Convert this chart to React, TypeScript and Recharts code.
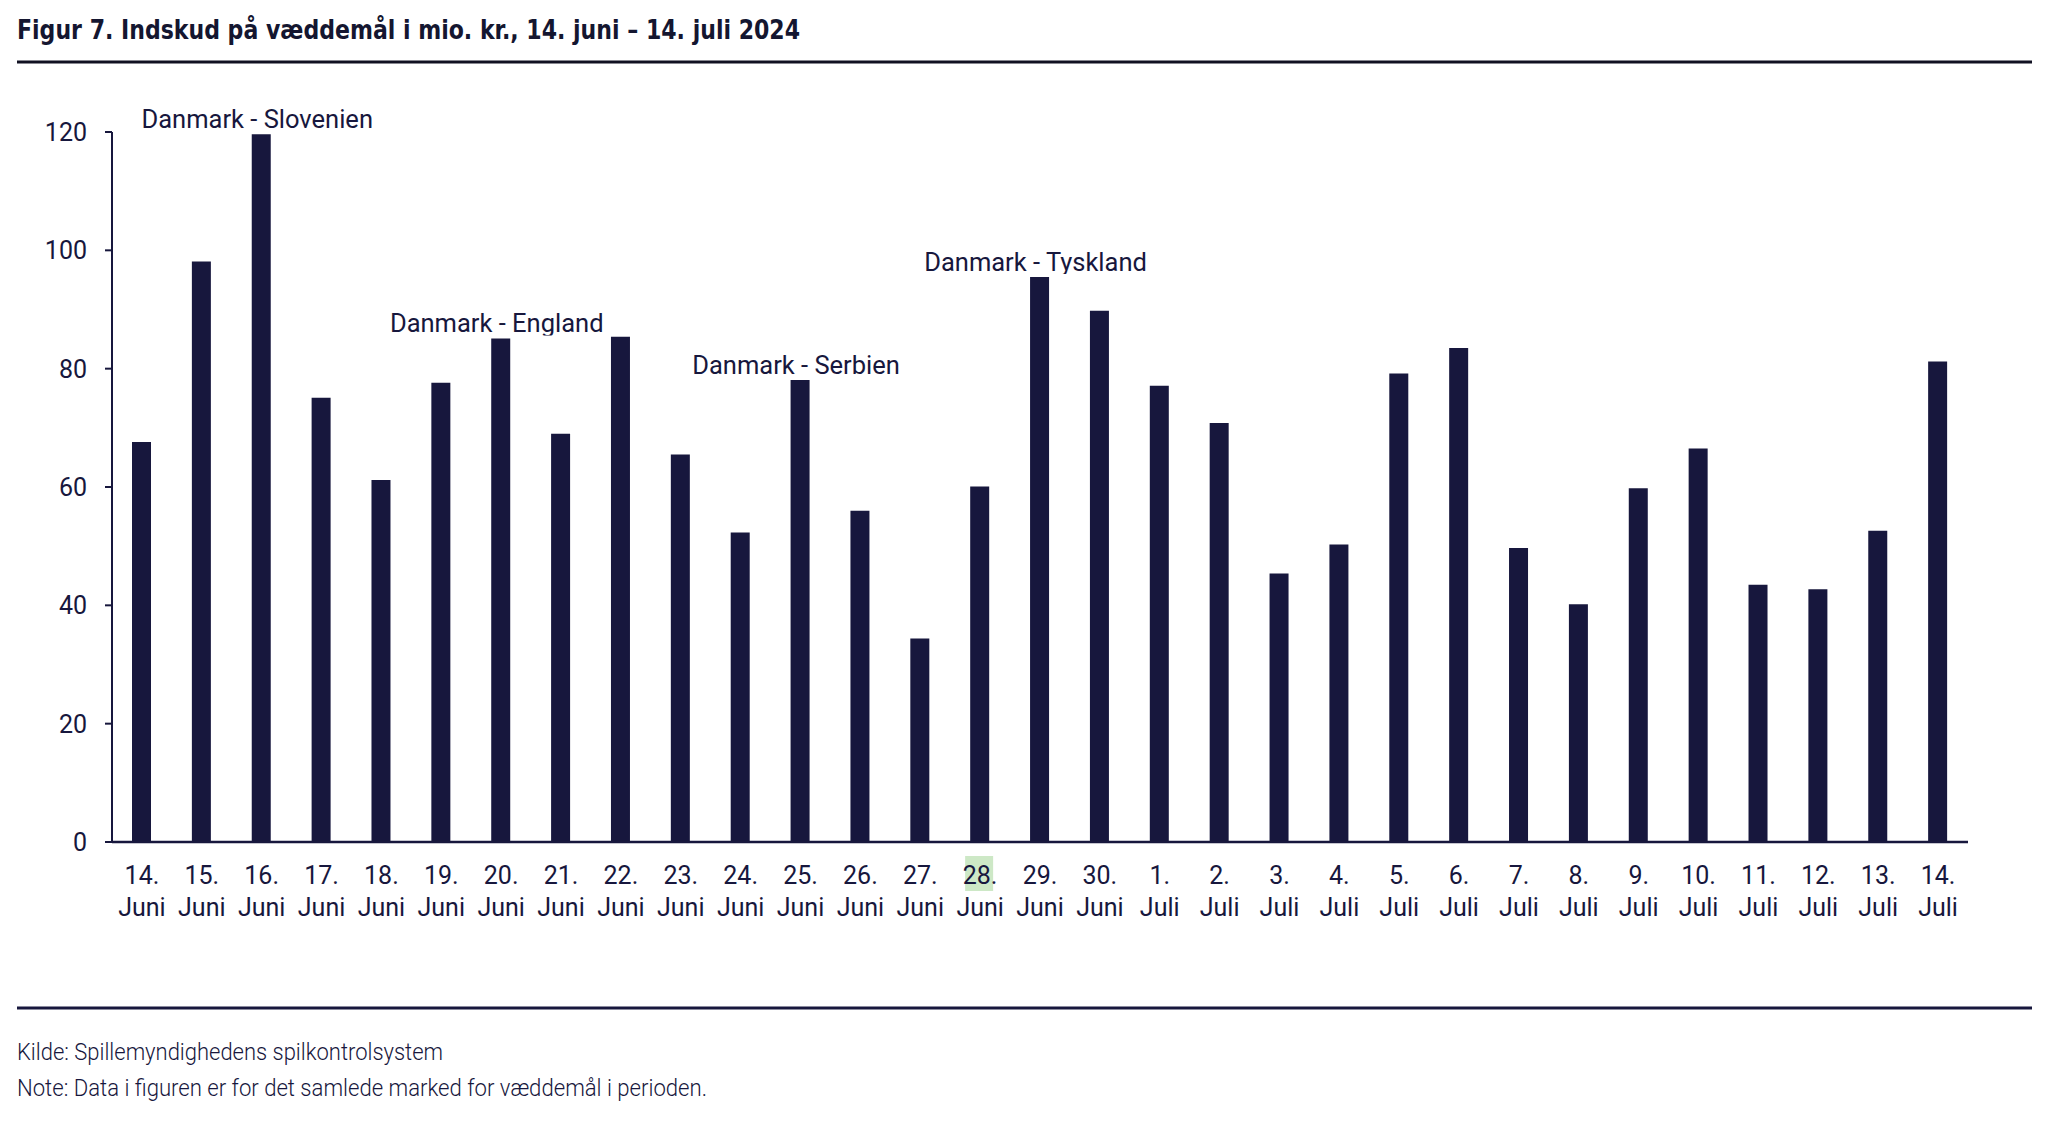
import React from "react";
import { BarChart, Bar, XAxis, YAxis, LabelList } from "recharts";

const dayLabels = [
  "14.", "15.", "16.", "17.", "18.", "19.", "20.", "21.", "22.", "23.", "24.", "25.", "26.", "27.", "28.", "29.", "30.",
  "1.", "2.", "3.", "4.", "5.", "6.", "7.", "8.", "9.", "10.", "11.", "12.", "13.", "14.",
];
const monthLabels = [
  "Juni", "Juni", "Juni", "Juni", "Juni", "Juni", "Juni", "Juni", "Juni", "Juni", "Juni", "Juni", "Juni", "Juni", "Juni", "Juni", "Juni",
  "Juli", "Juli", "Juli", "Juli", "Juli", "Juli", "Juli", "Juli", "Juli", "Juli", "Juli", "Juli", "Juli", "Juli",
];
const stakes = [
  67.6, 98.1, 119.6, 75.1, 61.2, 77.6, 85.1, 69.0, 85.4, 65.5, 52.3, 78.1, 56.0, 34.4, 60.1, 95.5, 89.8,
  77.1, 70.8, 45.4, 50.3, 79.2, 83.5, 49.7, 40.2, 59.8, 66.5, 43.5, 42.7, 52.6, 81.2,
];
const annotatedDates = ["16. Juni", "20. Juni", "25. Juni", "29. Juni"];
const annotationTexts = ["Danmark - Slovenien", "Danmark - England", "Danmark - Serbien", "Danmark - Tyskland"];
const highlightedDates = ["28. Juni"];
const yTicks = [0, 20, 40, 60, 80, 100, 120];

const titleText = "Figur 7. Indskud på væddemål i mio. kr., 14. juni – 14. juli 2024";
const sourceText = "Kilde: Spillemyndighedens spilkontrolsystem";
const noteText = "Note: Data i figuren er for det samlede marked for væddemål i perioden.";

const NAVY = "#17173d";
const FONT = "Roboto, 'Noto Sans', sans-serif";
const TITLE_FONT = "'DejaVu Sans Condensed', 'DejaVu Sans', sans-serif";

const data = dayLabels.map((d, i) => {
  const date = `${d} ${monthLabels[i]}`;
  const ai = annotatedDates.indexOf(date);
  return { date, value: stakes[i], note: ai >= 0 ? annotationTexts[ai] : "" };
});

const XTick = (props: any) => {
  const { x, y, payload } = props;
  const date = payload.value as string;
  const [day, month] = date.split(" ");
  const hl = highlightedDates.includes(date);
  return (
    <g>
      {hl && <rect x={x - 15} y={y + 14} width={28} height={35} fill="#cde8c6" />}
      <text x={x} y={y + 42} textAnchor="middle" fontFamily={FONT} fontSize={25} fill={NAVY}>
        {day}
      </text>
      <text x={x} y={y + 74} textAnchor="middle" fontFamily={FONT} fontSize={25} fill={NAVY}>
        {month}
      </text>
    </g>
  );
};

const NoteLabel = (props: any) => {
  const { x, y, width, value, index } = props;
  if (!value) return null;
  const cx = Number(x) + Number(width) / 2;
  const id = `note-clip-${index}`;
  return (
    <g>
      <defs>
        <clipPath id={id}>
          <rect x={cx - 200} y={Number(y) - 80} width={400} height={77} />
        </clipPath>
      </defs>
      <text
        x={cx - 4}
        y={Number(y) - 6}
        textAnchor="middle"
        fontFamily={FONT}
        fontSize={25.5}
        fill={NAVY}
        clipPath={`url(#${id})`}
      >
        {value}
      </text>
    </g>
  );
};

export default function App() {
  return (
    <div style={{ position: "absolute", left: 0, top: 0, width: 2048, height: 1141, background: "#fff" }}>
      <svg width={2048} height={1141} style={{ position: "absolute", left: 0, top: 0 }}>
        <text
          x={17}
          y={39}
          fontFamily={TITLE_FONT}
          fontWeight={700}
          fontSize={27}
          fill="#141630"
          textLength={783}
          lengthAdjust="spacingAndGlyphs"
        >
          {titleText}
        </text>
        <line x1={17} x2={2032} y1={62} y2={62} stroke="#111122" strokeWidth={3} />
        <line x1={17} x2={2032} y1={1008} y2={1008} stroke={NAVY} strokeWidth={3} />
        <text
          x={17}
          y={1060}
          fontFamily={FONT}
          fontWeight={300}
          fontSize={24}
          fill={NAVY}
          textLength={426}
          lengthAdjust="spacingAndGlyphs"
        >
          {sourceText}
        </text>
        <text
          x={17}
          y={1096}
          fontFamily={FONT}
          fontWeight={300}
          fontSize={24}
          fill={NAVY}
          textLength={690}
          lengthAdjust="spacingAndGlyphs"
        >
          {noteText}
        </text>
      </svg>
      <div style={{ position: "absolute", left: 0, top: 0 }}>
        <BarChart
          width={2048}
          height={960}
          data={data}
          margin={{ top: 132, right: 80, left: 12, bottom: 38 }}
          barCategoryGap={0}
        >
          <YAxis
            width={100}
            domain={[0, 120]}
            ticks={yTicks}
            interval={0}
            tickSize={7}
            tickMargin={18}
            axisLine={{ stroke: NAVY, strokeWidth: 2 }}
            tickLine={{ stroke: NAVY, strokeWidth: 2 }}
            tick={{ fontFamily: FONT, fontSize: 25, fill: NAVY }}
          />
          <XAxis
            dataKey="date"
            height={80}
            interval={0}
            tickSize={0}
            tickMargin={0}
            tickLine={false}
            axisLine={{ stroke: NAVY, strokeWidth: 2.5 }}
            tick={<XTick />}
          />
          <Bar dataKey="value" fill={NAVY} barSize={19} isAnimationActive={false}>
            <LabelList dataKey="note" content={<NoteLabel />} />
          </Bar>
        </BarChart>
      </div>
    </div>
  );
}
